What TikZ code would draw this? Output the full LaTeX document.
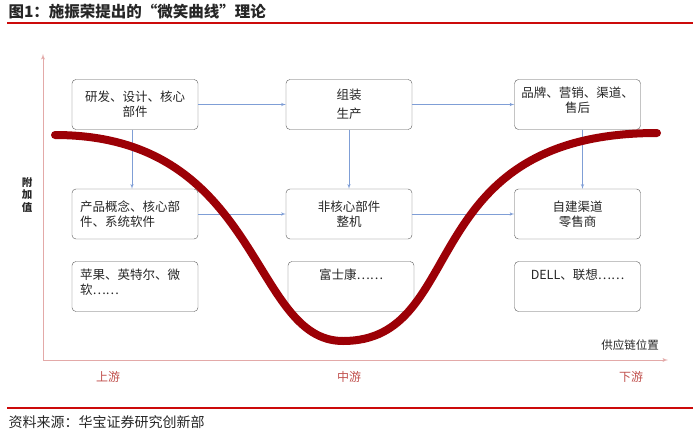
\documentclass[tikz,border=0pt]{standalone}
\usepackage{fontspec}
\setmainfont{Noto Sans CJK SC}
\usepackage{xcolor}
\usepackage{tikz}
\usetikzlibrary{arrows}
\tikzset{>=latex'}
\definecolor{curvered}{HTML}{9C0006}
\definecolor{axispink}{HTML}{E3A9A8}
\definecolor{linkblue}{HTML}{7F9ED6}
\definecolor{streamred}{HTML}{C0504D}
\definecolor{rulered}{HTML}{CC0A0A}
\tikzset{
	box/.style={draw=black!65,rounded corners=4pt,minimum width=126pt,minimum height=50pt,inner sep=4pt,align=center,font=\fontsize{12.5}{15}\selectfont},
	lowbox/.style={box,text height=14pt,text depth=28pt,text width=110pt},
	link/.style={->,draw=linkblue,fill=linkblue,line width=0.6pt},
	axis/.style={->,draw=axispink,line width=0.9pt},
	stream/.style={text=streamred,font=\fontsize{12}{14}\selectfont},
	rule/.style={draw=rulered,line width=2.2pt}
}

\begin{document}
\begin{tikzpicture}[x=1pt,y=-1pt,text=black!85]
	\useasboundingbox (0,0) rectangle (700,436);
	% title and rules
	\node[anchor=west,font=\bfseries\fontsize{15.5}{17}\selectfont] (title) at (5,12) {图1：施振荣提出的“微笑曲线”理论};
	\coordinate (top left) at (7,23);
	\coordinate (top right) at (693,23);
	\draw[rule] (top left) -- (top right);
	\coordinate (bottom left) at (7,408);
	\coordinate (bottom right) at (693,408);
	\draw[rule] (bottom left) -- (bottom right);
	\node[anchor=west,font=\fontsize{14}{16}\selectfont] (source) at (5,422) {资料来源：华宝证券研究创新部};
	% axes
	\coordinate (origin) at (43,360);
	\coordinate (y end) at (43,54);
	\coordinate (x end) at (668,360);
	\draw[axis] (origin) -- (y end);
	\draw[axis] (origin) -- (x end);
	\node[align=center,font=\bfseries\fontsize{10.5}{12.5}\selectfont] (value) at (27,195) {附\\加\\值};
	\node[font=\fontsize{11.5}{14}\selectfont] (chain) at (630,345) {供应链位置};
	\node[stream] (upstream) at (108,377) {上游};
	\node[stream] (midstream) at (349,377) {中游};
	\node[stream] (downstream) at (631,377) {下游};
	% boxes
	\node[box] (rnd) at (135,104.5) {研发、设计、核心\\部件};
	\node[box] (assembly) at (349,104.5) {组装\\[4pt]生产};
	\node[box] (brand) at (577.5,104.5) {品牌、营销、渠道、\\售后\\[-5pt]};
	\node[box,text width=110pt,align=left] (concept) at (135,214) {产品概念、核心部\\件、系统软件};
	\node[box] (noncore) at (349,214) {非核心部件\\整机};
	\node[box] (retail) at (577.5,214) {自建渠道\\零售商};
	\node[lowbox,align=left] (apple) at (135,286.5) {苹果、英特尔、微\\软……};
	\node[lowbox] (foxconn) at (351,286.5) {富士康……};
	\node[lowbox] (dell) at (577.5,286.5) {DELL、联想……};
	\draw[link] (rnd) -- (assembly);
	\draw[link] (assembly) -- (brand);
	\draw[link] (concept) -- (noncore);
	\draw[link] (noncore) -- (retail);
	\draw[link] ([xshift=-3pt]rnd.south) -- ([xshift=-3pt]concept.north);
	\draw[link] (assembly) -- (noncore);
	\draw[link] ([xshift=5pt]brand.south) -- ([xshift=5pt]retail.north);
	% smile curve
	\draw[curvered,line width=8pt,line cap=round] (55,135) .. controls (262,135) and (250,341) .. (343,341) .. controls (470,341) and (412,133) .. (657,133);
\end{tikzpicture}
\end{document}
